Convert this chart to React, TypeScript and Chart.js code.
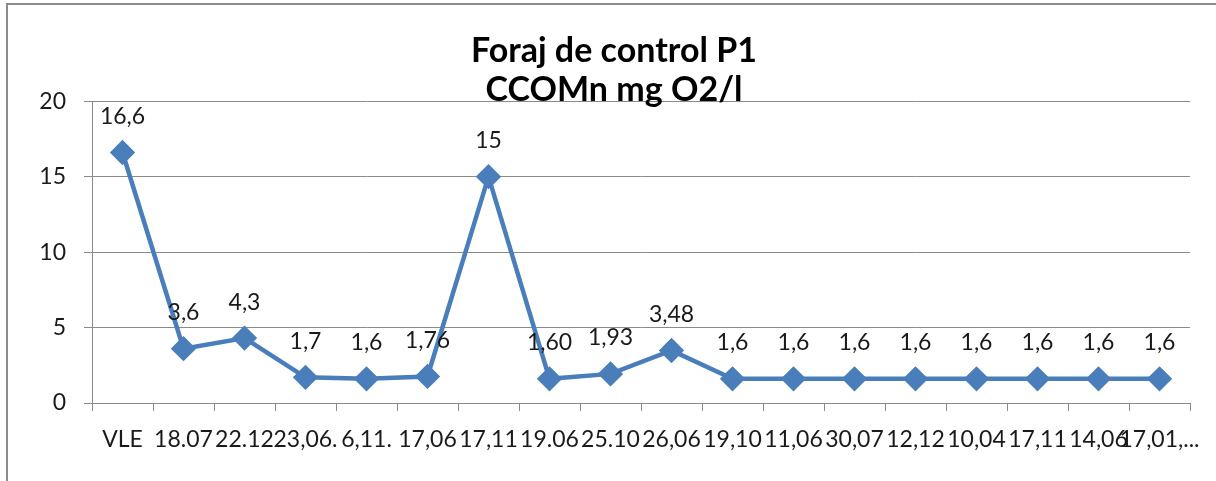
import React, { useEffect, useRef } from "react";
import { Chart, registerables } from "chart.js";

Chart.register(...registerables);

const categories = [
  "VLE", "18.07", "22.12", "23,06.", "6,11.", "17,06", "17,11", "19.06", "25.10",
  "26,06", "19,10", "11,06", "30,07", "12,12", "10,04", "17,11", "14,06", "17,01,...",
];
const values = [16.6, 3.6, 4.3, 1.7, 1.6, 1.76, 15, 1.6, 1.93, 3.48, 1.6, 1.6, 1.6, 1.6, 1.6, 1.6, 1.6, 1.6];
const valueLabels = [
  "16,6", "3,6", "4,3", "1,7", "1,6", "1,76", "15", "1,60", "1,93", "3,48",
  "1,6", "1,6", "1,6", "1,6", "1,6", "1,6", "1,6", "1,6",
];
const titleLines = ["Foraj de control P1", "CCOMn mg O2/l"];

const FONT = "Lato, 'Open Sans', sans-serif";
const LINE = "#4A7EBB";
const GRID = "#8a8a8a";
const TEXT = "#1a1a1a";

const framePlugin = {
  id: "frame",
  beforeDraw(chart: any) {
    const ctx = chart.ctx;
    ctx.save();
    ctx.strokeStyle = "#8c8c8c";
    ctx.lineWidth = 2;
    ctx.beginPath();
    ctx.moveTo(6, 4);
    ctx.lineTo(chart.width, 4);
    ctx.moveTo(7, 4);
    ctx.lineTo(7, chart.height);
    ctx.stroke();
    ctx.restore();
  },
};

const dataLabelPlugin = {
  id: "dataLabels",
  afterDatasetsDraw(chart: any) {
    const ctx = chart.ctx;
    const meta = chart.getDatasetMeta(0);
    ctx.save();
    ctx.font = `23px ${FONT}`;
    ctx.fillStyle = TEXT;
    ctx.textAlign = "center";
    ctx.textBaseline = "middle";
    meta.data.forEach((pt: any, i: number) => {
      ctx.fillText(valueLabels[i], pt.x, pt.y - 36);
    });
    ctx.restore();
  },
};

export default function App() {
  const ref = useRef<HTMLCanvasElement>(null);
  useEffect(() => {
    document.body.style.margin = "0";
    const chart = new Chart(ref.current!, {
      type: "line",
      data: {
        labels: categories,
        datasets: [
          {
            data: values,
            borderColor: LINE,
            backgroundColor: LINE,
            borderWidth: 4.5,
            pointStyle: "rectRot",
            pointRadius: 9.5,
            pointHoverRadius: 9.5,
            pointBackgroundColor: LINE,
            pointBorderColor: LINE,
            tension: 0,
          },
        ],
      },
      options: {
        responsive: false,
        animation: false,
        layout: { padding: { left: 38, right: 26, top: 0, bottom: 0 } },
        plugins: {
          legend: { display: false },
          tooltip: { enabled: false },
          title: {
            display: true,
            text: titleLines,
            color: "#000",
            font: { family: FONT, size: 34, weight: "bold", lineHeight: 1.15 },
            padding: { top: 31, bottom: -8 },
          },
        },
        scales: {
          x: {
            offset: true,
            grid: {
              display: true,
              offset: true,
              drawOnChartArea: false,
              drawTicks: true,
              tickLength: 8,
              color: GRID,
            },
            border: { display: true, color: GRID, width: 1 },
            ticks: {
              autoSkip: false,
              maxRotation: 0,
              minRotation: 0,
              color: TEXT,
              padding: 15,
              font: { family: FONT, size: 23 },
            },
            afterFit: (s: any) => {
              s.height = 78;
            },
          },
          y: {
            min: 0,
            max: 20,
            ticks: {
              stepSize: 5,
              color: TEXT,
              padding: 18,
              font: { family: FONT, size: 23 },
            },
            grid: { color: GRID, tickLength: 8, lineWidth: 1 },
            border: { display: true, color: GRID, width: 1 },
            afterFit: (s: any) => {
              s.width = 54;
            },
          },
        },
      },
      plugins: [framePlugin, dataLabelPlugin],
    });
    return () => chart.destroy();
  }, []);
  return <canvas ref={ref} width={1216} height={481} style={{ display: "block" }} />;
}
